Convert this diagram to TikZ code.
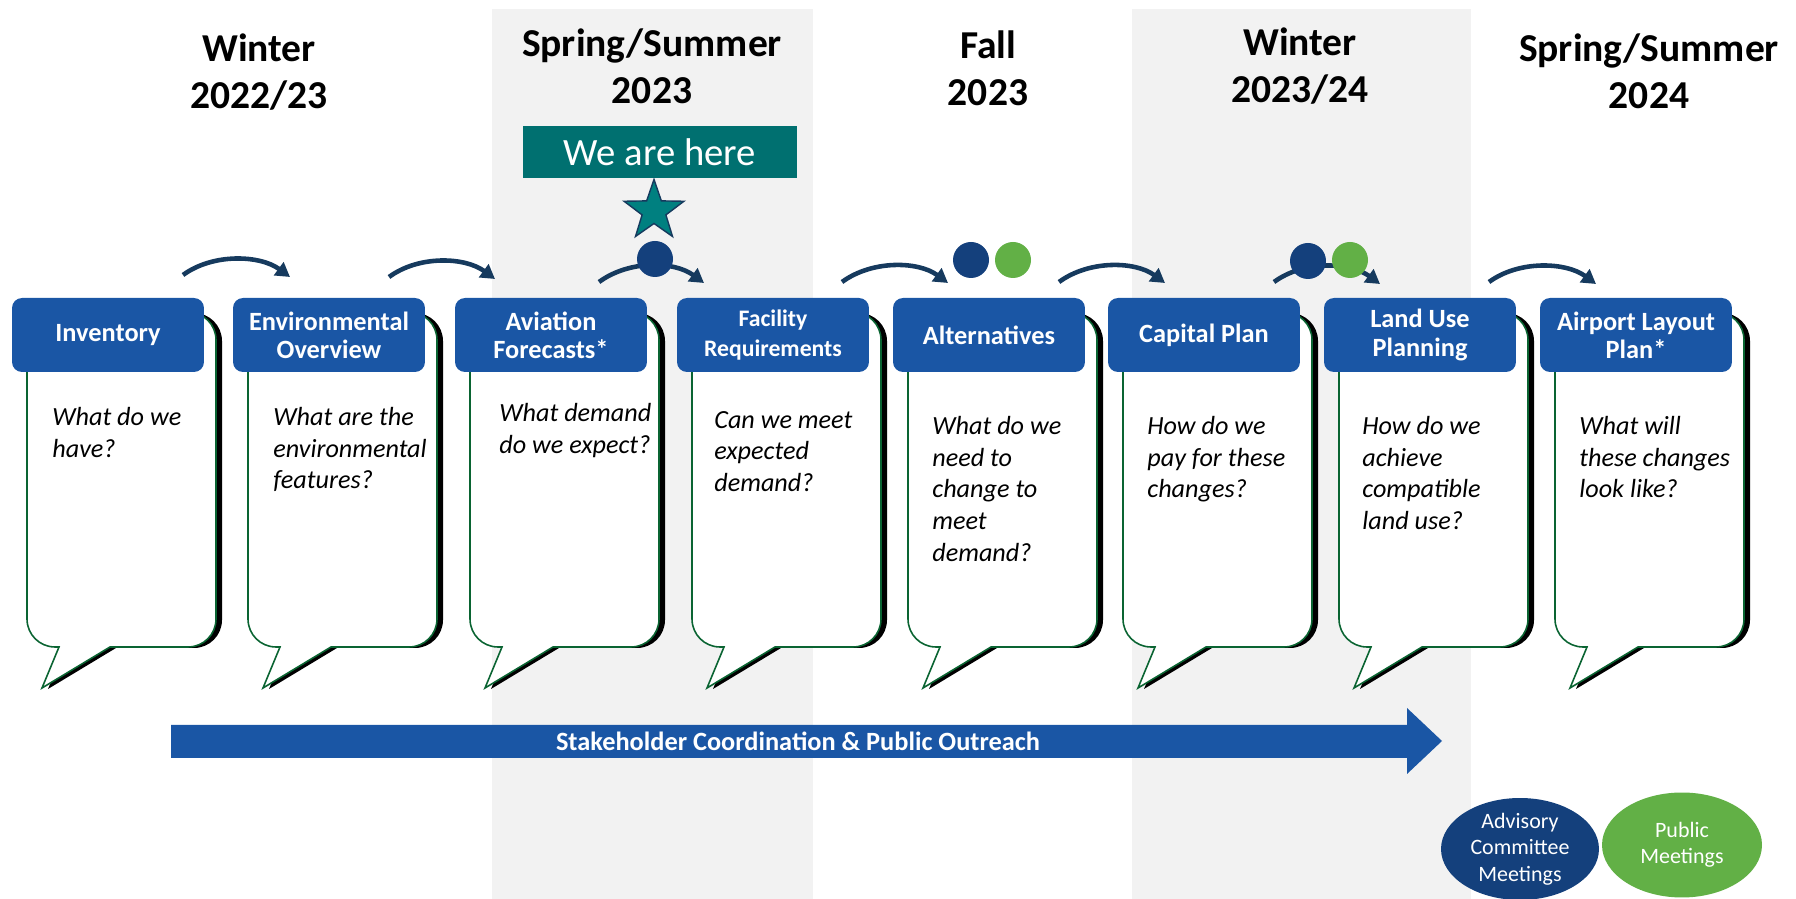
\documentclass[tikz,border=0pt]{standalone}
\usepackage{fontspec}
\setmainfont{Carlito}
\usetikzlibrary{arrows.meta,shapes.geometric}

\definecolor{hdrblue}{RGB}{26,86,165}
\definecolor{arrblue}{RGB}{22,58,94}
\definecolor{navy}{RGB}{20,64,124}
\definecolor{leaf}{RGB}{98,176,70}
\definecolor{hereteal}{RGB}{0,112,112}
\definecolor{starteal}{RGB}{0,128,128}
\definecolor{band}{RGB}{242,242,242}
\definecolor{edge}{RGB}{10,100,50}

% speech bubble under a header whose left side is at x=#1
\newcommand{\bubblepath}[1]{(#1+98,252) -- (#1+176,252) arc[start angle=-90,end angle=0,radius=28]
  -- (#1+204,559) arc[start angle=0,end angle=90,radius=28]
  -- (#1+43,587) arc[start angle=90,end angle=180,radius=28]
  -- (#1+15,280) arc[start angle=180,end angle=270,radius=28]
  -- (#1+47,252) -- (#1+30,211) -- cycle}
\newcommand{\bubble}[1]{%
  \fill[black, shift={(6,-1)}] \bubblepath{#1};
  \filldraw[fill=white, draw=edge, line width=0.9pt] \bubblepath{#1};}

\begin{document}
\begin{tikzpicture}[x=0.02cm,y=0.02cm,
    head/.style={rectangle, rounded corners=0.2cm, fill=hdrblue, text=white,
      minimum width=3.84cm, minimum height=1.48cm, align=center, inner sep=0pt,
      font=\fontsize{15}{16}\selectfont\bfseries},
    ask/.style={anchor=north west, align=left, inner sep=0pt,
      font=\fontsize{14.9}{18}\selectfont\itshape},
    season/.style={align=center, inner sep=0pt, font=\fontsize{22.5}{26.6}\selectfont\bfseries},
    hop/.style={arrblue, line width=2.6pt, -{Triangle[length=8pt,width=9pt]}},
    dot/.style={circle, minimum size=0.72cm, inner sep=0pt},
    meet/.style={ellipse, text=white, align=center, inner sep=0pt,
      font=\fontsize{12.5}{15}\selectfont}]
  \useasboundingbox (0,0) rectangle (1796,899);
  \clip (0,0) rectangle (1796,899);

  % shaded seasons
  \fill[band] (492,0) rectangle (813,890);
  \fill[band] (1132,0) rectangle (1471,890);

  \node[season] (w1) at (259,827) {Winter\\2022/23};
  \node[season] (s1) at (652,833) {Spring/Summer\\2023};
  \node[season] (f1) at (988,831) {Fall\\2023};
  \node[season] (w2) at (1300,833) {Winter\\2023/24};
  \node[season] (s2) at (1649,828) {Spring/Summer\\2024};

  \node[fill=hereteal, text=white, minimum width=5.48cm, minimum height=1.04cm,
    font=\fontsize{22}{26}\selectfont] (here) at (660,747) {We are here};
  \coordinate (star) at (654,688);
  \begin{scope}[shift={(star)}]
    \filldraw[fill=starteal, draw=arrblue, line width=0.8pt, line join=miter]
      (90:31.5) -- (126:12.5) -- (162:31.5) -- (198:12.5) -- (234:31.5) -- (270:12.5)
      -- (306:31.5) -- (342:12.5) -- (18:31.5) -- (54:12.5) -- cycle;
  \end{scope}

  % bubbles
  \foreach \L in {12,233,455,677,893,1108,1324,1540} {\bubble{\L}}

  \node[head] (inv)  at (108,564)  {Inventory};
  \node[head] (env)  at (329,564)  {Environmental\\Overview};
  \node[head] (fcst) at (551,564)  {Aviation\\Forecasts*};
  \node[head, font=\fontsize{13.5}{17}\selectfont\bfseries] (fac) at (773,564) {Facility\\Requirements};
  \node[head] (alt)  at (989,564)  {Alternatives};
  \node[head] (cap)  at (1204,564) {Capital Plan};
  \node[head] (land) at (1420,564) {Land Use\\Planning};
  \node[head] (alp)  at (1636,564) {Airport Layout\\Plan*};

  \node[ask] (q1) at (52,492)   {What do we\\have?};
  \node[ask] (q2) at (273,492)  {What are the\\environmental\\features?};
  \node[ask] (q3) at (499,496)  {What demand\\do we expect?};
  \node[ask] (q4) at (714,488)  {Can we meet\\expected\\demand?};
  \node[ask] (q5) at (932,483)  {What do we\\need to\\change to\\meet\\demand?};
  \node[ask] (q6) at (1147,483) {How do we\\pay for these\\changes?};
  \node[ask] (q7) at (1362,483) {How do we\\achieve\\compatible\\land use?};
  \node[ask] (q8) at (1579,483) {What will\\these changes\\look like?};

  % arrows between the steps
  \coordinate (a1) at (183,624);  \coordinate (b1) at (290,622);
  \coordinate (a2) at (389,622);  \coordinate (b2) at (495,620);
  \coordinate (a3) at (599,617);  \coordinate (b3) at (704,616);
  \coordinate (a4) at (842,617);  \coordinate (b4) at (948,616);
  \coordinate (a5) at (1059,617); \coordinate (b5) at (1165,616);
  \coordinate (a6) at (1274,617); \coordinate (b6) at (1380,615);
  \coordinate (a7) at (1489,617); \coordinate (b7) at (1596,615);
  \foreach \i in {1,...,7}
    \draw[hop] (a\i) .. controls +(30,22) and +(-30,22) .. (b\i);

  \node[dot, fill=navy] (d1) at (655,640) {};
  \node[dot, fill=navy] (d2) at (971,639) {};
  \node[dot, fill=leaf] (d3) at (1013,639) {};
  \node[dot, fill=navy] (d4) at (1308,638) {};
  \node[dot, fill=leaf] (d5) at (1350,639) {};

  % outreach bar
  \fill[hdrblue] (171,141) -- (1407,141) -- (1407,125) -- (1442,158)
    -- (1407,191) -- (1407,174) -- (171,174) -- cycle;
  \node[text=white, font=\fontsize{15}{18}\selectfont\bfseries] (outreach) at (798,158)
    {Stakeholder Coordination \& Public Outreach};

  \node[meet, fill=navy, minimum width=3.16cm, minimum height=2.04cm] (acm) at (1520,50)
    {Advisory\\Committee\\Meetings};
  \node[meet, fill=leaf, minimum width=3.2cm, minimum height=2.1cm] (pub) at (1682,54)
    {Public\\Meetings};
\end{tikzpicture}
\end{document}
